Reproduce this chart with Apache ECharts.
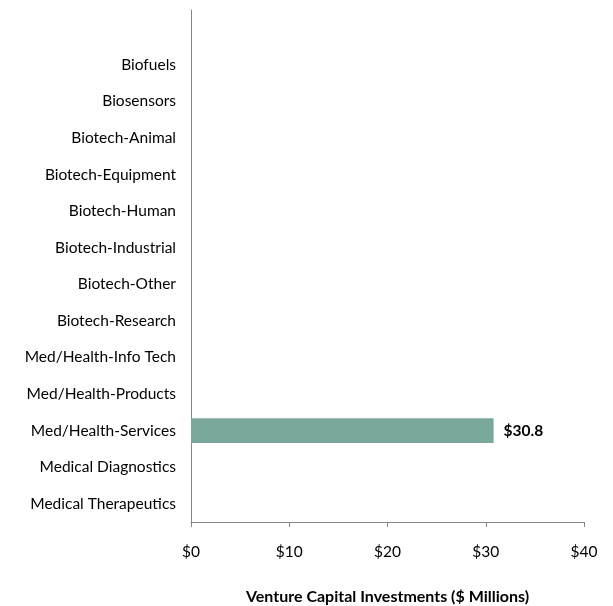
<!DOCTYPE html>
<html>
<head>
<meta charset="utf-8">
<script src="https://cdn.jsdelivr.net/npm/echarts@6/dist/echarts.min.js"></script>
<style>html,body{margin:0;padding:0;background:#fff}#c{width:613px;height:606px}</style>
</head>
<body>
<div id="c"></div>
<script>
var categories = ['', 'Biofuels', 'Biosensors', 'Biotech-Animal', 'Biotech-Equipment', 'Biotech-Human', 'Biotech-Industrial', 'Biotech-Other', 'Biotech-Research', 'Med/Health-Info Tech', 'Med/Health-Products', 'Med/Health-Services', 'Medical Diagnostics', 'Medical Therapeutics'];
var values = [null, null, null, null, null, null, null, null, null, null, null, 30.8, null, null];
var xTicks = [0, 10, 20, 30, 40];

var chart = echarts.init(document.getElementById('c'));
var font = 'Lato, "Open Sans", sans-serif';
chart.setOption({
  animation: false,
  grid: { left: 191, right: 29, top: 10, bottom: 84, containLabel: false, outerBoundsMode: 'none' },
  xAxis: {
    type: 'value', min: xTicks[0], max: xTicks[xTicks.length - 1], interval: 10,
    name: 'Venture Capital Investments ($ Millions)', nameLocation: 'middle', nameGap: 67,
    nameTextStyle: { fontFamily: font, fontSize: 16, fontWeight: 'bold', color: '#000' },
    axisLine: { show: true, lineStyle: { color: '#868686', width: 1 } },
    axisTick: { show: true, length: 5, lineStyle: { color: '#868686' } },
    axisLabel: { fontFamily: font, fontSize: 15.5, color: '#000', margin: 22, formatter: function (v) { return '$' + v; } },
    splitLine: { show: false }
  },
  yAxis: {
    type: 'category', inverse: true, data: categories,
    axisLine: { show: true, lineStyle: { color: '#868686', width: 1 } },
    axisTick: { show: false },
    axisLabel: { fontFamily: font, fontSize: 15.5, color: '#000', margin: 15 }
  },
  series: [{
    type: 'bar', data: values, barWidth: '68%',
    itemStyle: { color: '#7ba89c' },
    label: { show: true, position: 'right', distance: 10, fontFamily: font, fontSize: 15.5, fontWeight: 'bold', color: '#000',
      formatter: function (p) { return '$' + p.value.toFixed(1); } }
  }]
});
</script>
</body>
</html>
